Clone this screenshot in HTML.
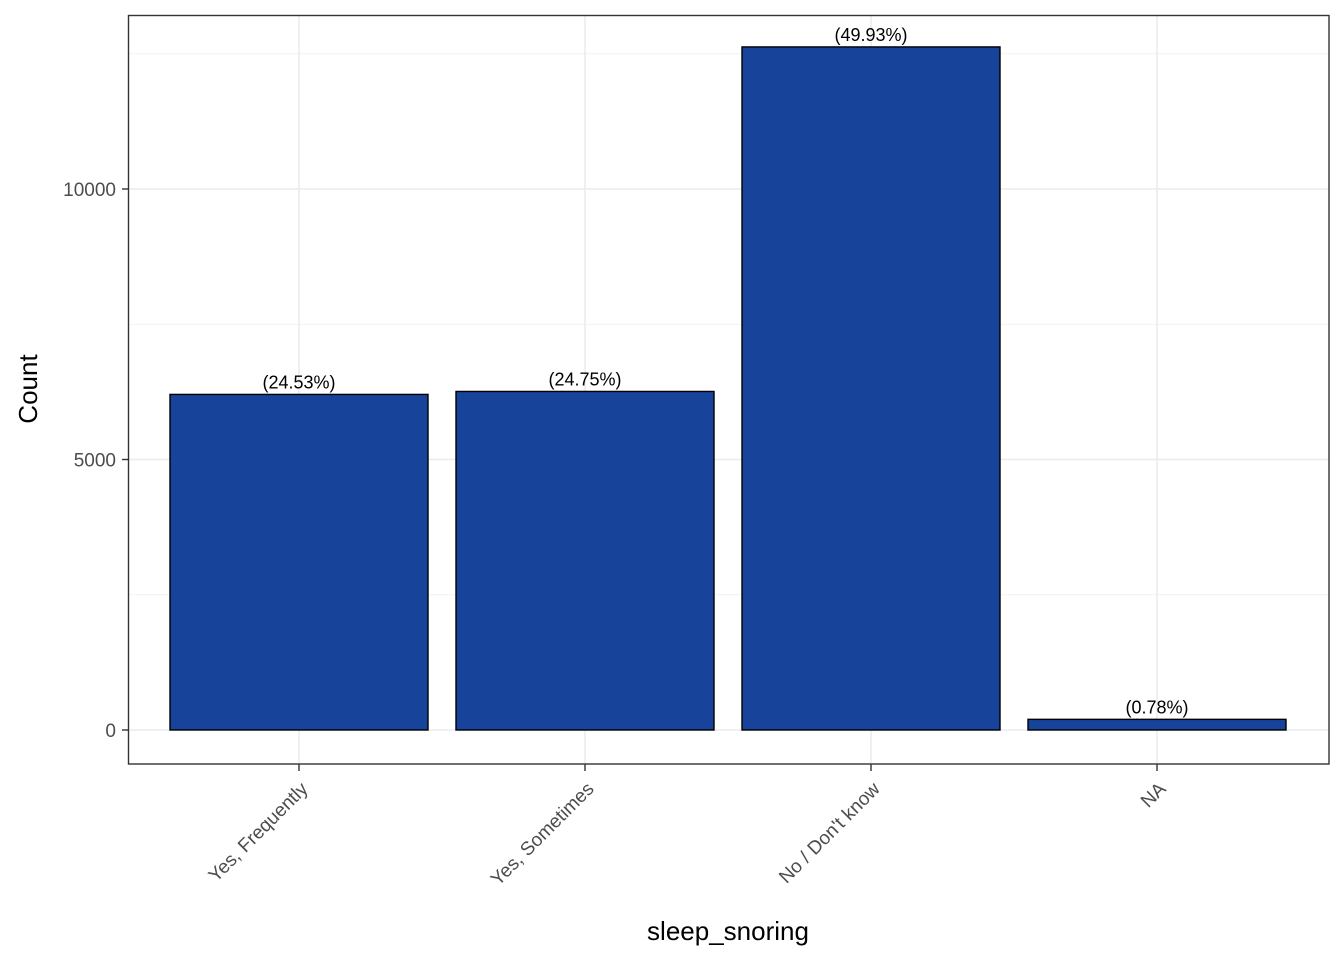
<!DOCTYPE html>
<html><head><meta charset="utf-8"><style>
body{margin:0;background:#fff}
svg{display:block;font-family:"Liberation Sans",Arial,sans-serif}
</style></head><body>
<svg id="chart" width="1344" height="960" viewBox="0 0 1344 960">
<rect x="0" y="0" width="1344" height="960" fill="#fff"/>
<g id="grid"></g>
<g id="bars"></g>
<g id="axes"></g>
<rect x="128.5" y="15.5" width="1200.5" height="748.5" fill="none" stroke="#333" stroke-width="1.4"/>
<text x="728" y="940" text-anchor="middle" font-size="26" fill="#000">sleep_snoring</text>
<text transform="translate(37,389) rotate(-90)" text-anchor="middle" font-size="26" fill="#000">Count</text>
</svg>
<script>
const categories=["Yes, Frequently","Yes, Sometimes","No / Don't know","NA"];
const counts=[6203,6258,12626,197];
const pctLabels=["(24.53%)","(24.75%)","(49.93%)","(0.78%)"];
const majorTicks=[0,5000,10000];
const minorTicks=[2500,7500,12500];
const NS="http://www.w3.org/2000/svg";
const y=v=>730-v*0.0541;
const x=i=>299+i*286;
const bw=258;
function mk(tag,attrs,parent){const e=document.createElementNS(NS,tag);for(const k in attrs)e.setAttribute(k,attrs[k]);parent.appendChild(e);return e;}
const grid=document.getElementById('grid'),bars=document.getElementById('bars'),axes=document.getElementById('axes');
minorTicks.forEach(t=>{const l=mk('line',{x1:129,x2:1329,y1:y(t),y2:y(t),stroke:'#f2f2f2','stroke-width':1},grid);

});
majorTicks.forEach(t=>{const l=mk('line',{x1:129,x2:1329,y1:y(t),y2:y(t),stroke:'#ebebeb','stroke-width':1.5},grid);


const tk=mk('line',{x1:122,x2:128,y1:y(t),y2:y(t),stroke:'#333','stroke-width':1.4},axes);


const tx=mk('text',{x:116,y:y(t)+7,'text-anchor':'end','font-size':19,fill:'#4d4d4d'},axes);tx.textContent=t;

});
categories.forEach((c,i)=>{const cx=x(i);
const g=mk('line',{x1:cx,x2:cx,y1:16,y2:763,stroke:'#ebebeb','stroke-width':1.5},grid);


const r=mk('rect',{x:cx-bw/2,y:y(counts[i]),width:bw,height:730-y(counts[i]),fill:'#18439a',stroke:'#000','stroke-width':1.4},bars);


const lb=mk('text',{x:cx,y:y(counts[i])-6,'text-anchor':'middle','font-size':18,fill:'#000'},bars);lb.textContent=pctLabels[i];


const tk=mk('line',{x1:cx,x2:cx,y1:764,y2:771,stroke:'#333','stroke-width':1.4},axes);


const tx=mk('text',{transform:`translate(${cx+10},${790}) rotate(-45)`,'text-anchor':'end','font-size':19,fill:'#4d4d4d'},axes);tx.textContent=c;

});
</script>
</body></html>
